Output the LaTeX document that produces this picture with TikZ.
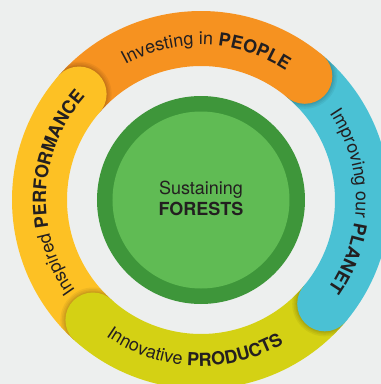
\documentclass[tikz,border=0pt]{standalone}
\usepackage{fontspec}
\setmainfont{TeX Gyre Heros}
\usetikzlibrary{decorations.text}

\definecolor{paper}{RGB}{237,239,238}
\definecolor{peopleorange}{RGB}{246,146,32}
\definecolor{planetcyan}{RGB}{74,193,212}
\definecolor{productlime}{RGB}{212,209,20}
\definecolor{perfyellow}{RGB}{253,193,36}
\definecolor{forestdark}{RGB}{62,150,58}
\definecolor{forestlight}{RGB}{96,187,84}
\definecolor{ink}{RGB}{35,31,32}

\newcommand{\ringfont}{\fontsize{18}{21}\selectfont\color{ink}}

\begin{document}
\begin{tikzpicture}[x=1pt, y=1pt,
  ringtext/.style={decorate, decoration={text along path, text align=center, text={#1}}}]
\fill[paper] (-201,-184) rectangle (180,200);
\useasboundingbox (-201,-184) rectangle (180,200);

% ring segments, each one runs from its own cap to the next cap
\foreach \a/\b/\c in {50/139/peopleorange, 139/228/perfyellow, 228/320/productlime, 320/410/planetcyan}
  \draw[line width=55pt, \c] (\a:161.5pt) arc[start angle=\a, end angle=\b, radius=161.5pt];

% round caps with a soft shadow on the segment below
\foreach \a/\c in {50/peopleorange, 139/perfyellow, 228/productlime, 320/planetcyan} {
  \begin{scope}
    \clip (\a:134pt) arc[start angle=\a, end angle=\a-25, radius=134pt]
      -- (\a-25:189pt) arc[start angle=\a-25, end angle=\a, radius=189pt] -- cycle;
    \foreach \s in {5,3.5,2,1}
      \fill[black, opacity=.05] (\a:161.5pt) circle[radius=27.5pt+\s pt];
  \end{scope}
  \fill[\c] (\a:161.5pt) circle[radius=27.5pt];
}

% labels along the ring
\path[ringtext={|\ringfont|Investing in |\ringfont\bfseries|PEOPLE}]
  (158:155pt) arc[start angle=158, end angle=18, radius=155pt];
\path[ringtext={|\ringfont|Improving our |\ringfont\bfseries|PLANET}]
  (70:155pt) arc[start angle=70, end angle=-71, radius=155pt];
\path[ringtext={|\ringfont|Innovative |\ringfont\bfseries|PRODUCTS}]
  (-162.5:166pt) arc[start angle=-162.5, end angle=-22.5, radius=166pt];
\path[ringtext={|\ringfont|Inspired |\ringfont\bfseries|PERFORMANCE}]
  (247:155pt) arc[start angle=247, end angle=107, radius=155pt];

% centre
\fill[forestdark] (0,0) circle[radius=104pt];
\fill[forestlight] (0,0) circle[radius=88.5pt];
\node[align=center, font=\fontsize{18}{21}\selectfont, text=ink] (forests) at (0,2)
  {Sustaining\\\textbf{FORESTS}};
\end{tikzpicture}
\end{document}
